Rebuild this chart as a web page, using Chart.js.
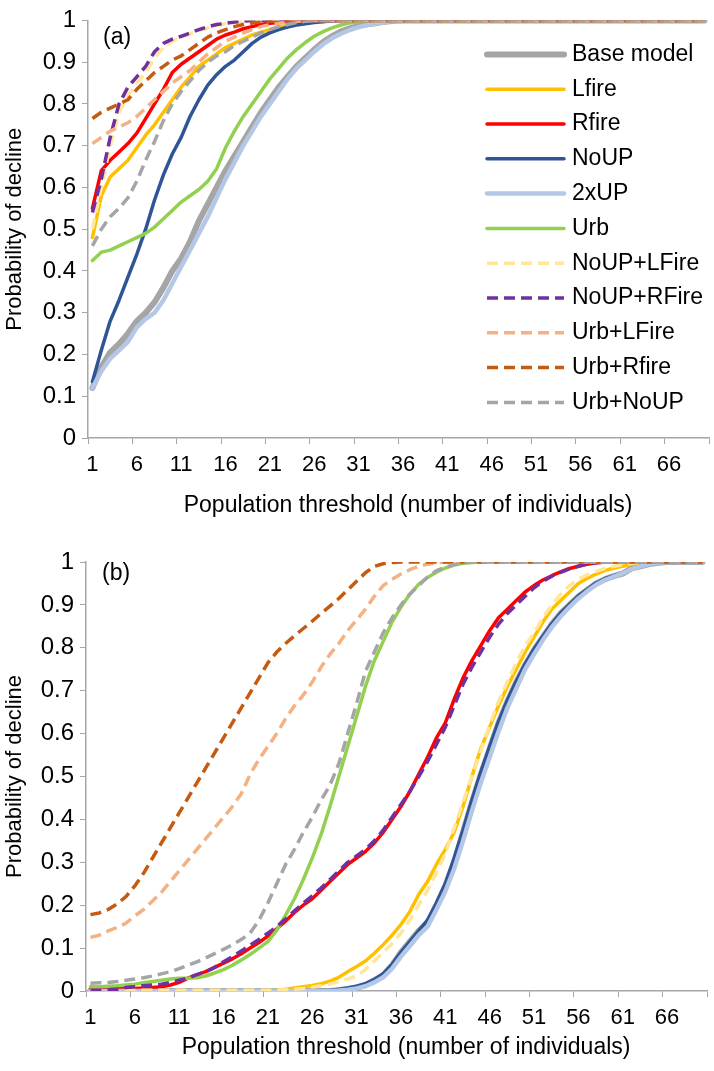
<!DOCTYPE html>
<html>
<head>
<meta charset="utf-8">
<script src="https://cdn.jsdelivr.net/npm/chart.js@4.4.1/dist/chart.umd.min.js"></script>
<style>
  body { margin: 0; background: #fff; }
  .panel { position: relative; width: 714px; }
</style>
</head>
<body>
<div class="panel" style="height:535px"><canvas id="chartA" width="714" height="535"></canvas></div>
<div class="panel" style="height:536px"><canvas id="chartB" width="714" height="536"></canvas></div>
<script>
// population thresholds (x categories)
const thresholds = [1,2,3,4,5,6,7,8,9,10,11,12,13,14,15,16,17,18,19,20,
  21,22,23,24,25,26,27,28,29,30,31,32,33,34,35,36,37,38,39,40,
  41,42,43,44,45,46,47,48,49,50,51,52,53,54,55,56,57,58,59,60,
  61,62,63,64,65,66,67,68,69,70];

const seriesNames = ['Base model','Lfire','Rfire','NoUP','2xUP','Urb',
  'NoUP+LFire','NoUP+RFire','Urb+LFire','Urb+Rfire','Urb+NoUP'];

// ---- panel (a) ----
const baseA = [0.12,0.17,0.205,0.225,0.25,0.28,0.30,0.325,0.36,0.40,
  0.43,0.47,0.52,0.56,0.60,0.64,0.675,0.71,0.745,0.78,
  0.81,0.84,0.865,0.89,0.91,0.93,0.948,0.962,0.973,0.981,
  0.987,0.991,0.994,0.997,0.999,1,1,1,1,1,
  1,1,1,1,1,1,1,1,1,1, 1,1,1,1,1,1,1,1,1,1, 1,1,1,1,1,1,1,1,1,1];
const lfireA = [0.48,0.58,0.625,0.645,0.665,0.695,0.725,0.75,0.78,0.81,
  0.84,0.865,0.89,0.905,0.92,0.935,0.945,0.955,0.965,0.972,
  0.978,0.984,0.988,0.992,0.995,0.997,0.999,1,1,1,
  1,1,1,1,1,1,1,1,1,1, 1,1,1,1,1,1,1,1,1,1, 1,1,1,1,1,1,1,1,1,1, 1,1,1,1,1,1,1,1,1,1];
const rfireA = [0.55,0.64,0.665,0.685,0.705,0.73,0.765,0.80,0.835,0.875,
  0.895,0.91,0.925,0.94,0.955,0.965,0.972,0.98,0.985,0.99,
  0.993,0.995,0.997,0.999,1,1,1,1,1,1,
  1,1,1,1,1,1,1,1,1,1, 1,1,1,1,1,1,1,1,1,1, 1,1,1,1,1,1,1,1,1,1, 1,1,1,1,1,1,1,1,1,1];
const noupA = [0.135,0.21,0.28,0.33,0.385,0.44,0.50,0.57,0.63,0.68,
  0.72,0.77,0.81,0.845,0.87,0.89,0.905,0.925,0.945,0.96,
  0.97,0.978,0.984,0.989,0.992,0.995,0.997,0.999,1,1,
  1,1,1,1,1,1,1,1,1,1, 1,1,1,1,1,1,1,1,1,1, 1,1,1,1,1,1,1,1,1,1, 1,1,1,1,1,1,1,1,1,1];
const x2upA = [0.12,0.16,0.19,0.21,0.23,0.265,0.285,0.30,0.33,0.37,
  0.41,0.45,0.49,0.53,0.575,0.62,0.66,0.70,0.735,0.77,
  0.80,0.83,0.86,0.885,0.905,0.925,0.943,0.957,0.968,0.977,
  0.984,0.989,0.993,0.996,0.999,1,1,1,1,1,
  1,1,1,1,1,1,1,1,1,1, 1,1,1,1,1,1,1,1,1,1, 1,1,1,1,1,1,1,1,1,1];
const urbA = [0.425,0.445,0.45,0.46,0.47,0.48,0.49,0.505,0.525,0.545,
  0.565,0.58,0.595,0.615,0.645,0.695,0.735,0.77,0.80,0.83,
  0.86,0.885,0.91,0.93,0.947,0.962,0.973,0.982,0.989,0.994,
  0.997,0.999,1,1,1,1,1,1,1,1,
  1,1,1,1,1,1,1,1,1,1, 1,1,1,1,1,1,1,1,1,1, 1,1,1,1,1,1,1,1,1,1];
const noupLfireA = [0.50,0.60,0.70,0.78,0.82,0.85,0.875,0.91,0.935,0.95,
  0.96,0.968,0.975,0.982,0.988,0.992,0.995,0.998,1,1,
  1,1,1,1,1,1,1,1,1,1, 1,1,1,1,1,1,1,1,1,1, 1,1,1,1,1,1,1,1,1,1,
  1,1,1,1,1,1,1,1,1,1, 1,1,1,1,1,1,1,1,1,1];
const noupRfireA = [0.54,0.62,0.72,0.80,0.84,0.865,0.89,0.925,0.945,0.955,
  0.962,0.97,0.978,0.985,0.99,0.993,0.996,0.998,1,1,
  1,1,1,1,1,1,1,1,1,1, 1,1,1,1,1,1,1,1,1,1, 1,1,1,1,1,1,1,1,1,1,
  1,1,1,1,1,1,1,1,1,1, 1,1,1,1,1,1,1,1,1,1];
const urbLfireA = [0.705,0.72,0.735,0.745,0.755,0.77,0.79,0.81,0.83,0.85,
  0.865,0.88,0.90,0.92,0.935,0.95,0.96,0.97,0.978,0.985,
  0.99,0.993,0.996,0.998,1,1,1,1,1,1,
  1,1,1,1,1,1,1,1,1,1, 1,1,1,1,1,1,1,1,1,1, 1,1,1,1,1,1,1,1,1,1, 1,1,1,1,1,1,1,1,1,1];
const urbRfireA = [0.765,0.78,0.79,0.80,0.81,0.835,0.855,0.875,0.89,0.905,
  0.915,0.93,0.945,0.96,0.97,0.978,0.985,0.99,0.994,0.997,
  0.999,1,1,1,1,1,1,1,1,1,
  1,1,1,1,1,1,1,1,1,1, 1,1,1,1,1,1,1,1,1,1, 1,1,1,1,1,1,1,1,1,1, 1,1,1,1,1,1,1,1,1,1];
const urbNoupA = [0.46,0.50,0.53,0.55,0.575,0.615,0.665,0.71,0.76,0.80,
  0.83,0.855,0.88,0.90,0.915,0.925,0.94,0.95,0.96,0.97,
  0.978,0.985,0.99,0.995,0.998,1,1,1,1,1,
  1,1,1,1,1,1,1,1,1,1, 1,1,1,1,1,1,1,1,1,1, 1,1,1,1,1,1,1,1,1,1, 1,1,1,1,1,1,1,1,1,1];

// ---- panel (b) ----
const baseB = [0,0,0,0,0,0,0,0,0,0, 0,0,0,0,0,0,0,0,0,0,
  0,0,0,0,0,0,0,0,0.002,0.005,
  0.008,0.014,0.025,0.037,0.06,0.09,0.115,0.14,0.16,0.2,
  0.245,0.3,0.37,0.44,0.505,0.565,0.625,0.675,0.72,0.76,
  0.795,0.825,0.855,0.88,0.9,0.92,0.935,0.95,0.96,0.967,
  0.973,0.985,0.99,0.995,0.998,1,1,1,1,1];
const lfireB = [0,0,0,0,0,0,0,0,0,0, 0,0,0,0,0,0,0,0,0,0,
  0.001,0.002,0.004,0.007,0.01,0.013,0.017,0.023,0.032,0.045,
  0.057,0.07,0.088,0.108,0.13,0.155,0.185,0.225,0.255,0.295,
  0.33,0.37,0.43,0.5,0.565,0.615,0.665,0.71,0.75,0.79,
  0.825,0.86,0.89,0.91,0.93,0.95,0.962,0.972,0.98,0.986,
  0.99,0.994,0.997,0.999,1,1,1,1,1,1];
const rfireB = [0.005,0.005,0.005,0.005,0.006,0.006,0.007,0.008,0.01,0.014,
  0.02,0.03,0.038,0.045,0.055,0.065,0.075,0.087,0.1,0.113,
  0.128,0.145,0.163,0.183,0.2,0.215,0.235,0.255,0.275,0.295,
  0.31,0.325,0.345,0.37,0.4,0.43,0.465,0.505,0.545,0.59,
  0.625,0.68,0.73,0.77,0.805,0.84,0.87,0.89,0.91,0.93,
  0.945,0.958,0.968,0.977,0.985,0.99,0.995,0.998,1,1,
  1,1,1,1,1,1,1,1,1,1];
const noupB = [0,0,0,0,0,0,0,0,0,0, 0,0,0,0,0,0,0,0,0,0,
  0,0,0,0,0,0,0.001,0.002,0.004,0.007,
  0.011,0.017,0.027,0.04,0.062,0.09,0.115,0.14,0.165,0.205,
  0.25,0.31,0.375,0.445,0.51,0.57,0.628,0.678,0.722,0.762,
  0.797,0.827,0.856,0.881,0.901,0.921,0.936,0.951,0.961,0.968,
  0.975,0.985,0.99,0.995,0.998,1,1,1,1,1];
const x2upB = [0,0,0,0,0,0,0,0,0,0, 0,0,0,0,0,0,0,0,0,0,
  0,0,0,0,0,0,0,0,0.001,0.003,
  0.006,0.011,0.02,0.032,0.052,0.08,0.105,0.13,0.15,0.19,
  0.232,0.285,0.35,0.42,0.485,0.545,0.605,0.66,0.705,0.75,
  0.785,0.818,0.848,0.873,0.895,0.915,0.932,0.947,0.958,0.966,
  0.974,0.984,0.99,0.995,0.998,1,1,1,1,1];
const urbB = [0.01,0.01,0.011,0.012,0.014,0.016,0.019,0.022,0.025,0.028,
  0.03,0.03,0.031,0.035,0.042,0.05,0.06,0.072,0.085,0.1,
  0.115,0.142,0.177,0.215,0.26,0.31,0.365,0.43,0.5,0.57,
  0.64,0.71,0.77,0.815,0.86,0.895,0.925,0.948,0.964,0.976,
  0.986,0.993,0.997,0.999,1,1,1,1,1,1,
  1,1,1,1,1,1,1,1,1,1, 1,1,1,1,1,1,1,1,1,1];
const noupLfireB = [0.001,0.001,0.001,0.001,0.002,0.002,0.002,0.002,0.002,0.002,
  0.002,0.002,0.002,0.002,0.002,0.002,0.002,0.002,0.002,0.002,
  0.002,0.002,0.003,0.004,0.006,0.009,0.012,0.016,0.022,0.028,
  0.035,0.05,0.07,0.09,0.11,0.135,0.165,0.2,0.235,0.275,
  0.32,0.38,0.44,0.5,0.56,0.62,0.675,0.72,0.765,0.805,
  0.835,0.87,0.9,0.925,0.945,0.96,0.97,0.978,0.985,0.99,
  0.994,0.997,0.999,1,1,1,1,1,1,1];
const noupRfireB = [0.002,0.002,0.003,0.004,0.008,0.01,0.012,0.014,0.016,0.02,
  0.025,0.03,0.038,0.045,0.055,0.068,0.08,0.093,0.107,0.12,
  0.135,0.15,0.168,0.187,0.205,0.222,0.24,0.26,0.28,0.3,
  0.315,0.33,0.35,0.375,0.405,0.435,0.465,0.5,0.535,0.575,
  0.615,0.665,0.715,0.755,0.79,0.825,0.855,0.88,0.9,0.92,
  0.94,0.955,0.967,0.976,0.984,0.99,0.995,0.998,1,1,
  1,1,1,1,1,1,1,1,1,1];
const urbLfireB = [0.125,0.13,0.14,0.148,0.158,0.175,0.19,0.21,0.23,0.255,
  0.28,0.305,0.33,0.355,0.38,0.405,0.43,0.46,0.505,0.54,
  0.57,0.6,0.635,0.665,0.69,0.72,0.755,0.785,0.81,0.84,
  0.865,0.89,0.92,0.945,0.96,0.972,0.982,0.99,0.995,0.998,
  1,1,1,1,1,1,1,1,1,1, 1,1,1,1,1,1,1,1,1,1, 1,1,1,1,1,1,1,1,1,1];
const urbRfireB = [0.178,0.182,0.19,0.203,0.22,0.245,0.275,0.31,0.345,0.38,
  0.415,0.45,0.485,0.52,0.555,0.59,0.625,0.66,0.695,0.73,
  0.765,0.79,0.81,0.828,0.845,0.862,0.88,0.897,0.915,0.935,
  0.955,0.975,0.99,0.996,0.999,1,1,1,1,1,
  1,1,1,1,1,1,1,1,1,1, 1,1,1,1,1,1,1,1,1,1, 1,1,1,1,1,1,1,1,1,1];
const urbNoupB = [0.018,0.019,0.02,0.022,0.025,0.028,0.031,0.035,0.04,0.045,
  0.052,0.06,0.068,0.077,0.087,0.097,0.108,0.12,0.135,0.165,
  0.205,0.25,0.295,0.33,0.37,0.405,0.445,0.48,0.53,0.6,
  0.67,0.745,0.79,0.835,0.87,0.9,0.925,0.945,0.965,0.98,
  0.988,0.994,0.998,1,1,1,1,1,1,1,
  1,1,1,1,1,1,1,1,1,1, 1,1,1,1,1,1,1,1,1,1];

// styles
const seriesColors = ['#A5A5A5','#FFC000','#FF0000','#2F5597','#B4C7E7','#92D050',
  '#FFE699','#7030A0','#F4B183','#C55A11','#A5A5A5'];
const seriesWidths = [6, 3.5, 3.5, 3.5, 4.5, 3.5, 3.5, 3.5, 3.5, 3.5, 3.5];
const seriesDashed = [false,false,false,false,false,false,true,true,true,true,true];

const FONT = "'Liberation Sans', Arial, sans-serif";
const AXIS_GREY = '#A6A6A6';

function buildDatasets(values) {
  return seriesNames.map((name, i) => ({
    label: name,
    data: values[i],
    borderColor: seriesColors[i],
    backgroundColor: seriesColors[i],
    borderWidth: seriesWidths[i],
    borderDash: seriesDashed[i] ? [11, 6] : [],
    borderCapStyle: seriesDashed[i] ? 'butt' : 'round',
    borderJoinStyle: 'round',
    pointRadius: 0,
    tension: 0,
    fill: false,
    order: seriesNames.length - i   // later series drawn on top, like the original
  }));
}

// panel tag "(a)" / "(b)" and the in-plot legend
const panelDecor = {
  id: 'panelDecor',
  afterDraw(chart, args, opts) {
    const {ctx, chartArea} = chart;
    ctx.save();
    ctx.fillStyle = '#000';
    ctx.font = '23px ' + FONT;
    ctx.textBaseline = 'middle';
    ctx.fillText(opts.tag, chartArea.left + opts.tagX, chartArea.top + opts.tagY);
    if (opts.legend) {
      chart.data.datasets.forEach((ds, i) => {
        const y = chartArea.top + 34 + i * 34.8;
        const x0 = chartArea.right - 222;
        ctx.beginPath();
        ctx.strokeStyle = ds.borderColor;
        ctx.lineWidth = ds.borderWidth;
        ctx.setLineDash(ds.borderDash);
        ctx.lineCap = ds.borderDash.length ? 'butt' : 'round';
        ctx.moveTo(x0, y);
        ctx.lineTo(x0 + 77, y);
        ctx.stroke();
        ctx.setLineDash([]);
        ctx.fillText(ds.label, x0 + 85, y);
      });
    }
    ctx.restore();
  }
};

function makePanel(id, values, p) {
  return new Chart(document.getElementById(id), {
    type: 'line',
    data: { labels: thresholds, datasets: buildDatasets(values) },
    plugins: [panelDecor],
    options: {
      responsive: false,
      animation: false,
      devicePixelRatio: 1,
      events: [],
      layout: { padding: { left: 0, right: p.right, top: p.top, bottom: 0 } },
      plugins: {
        legend: { display: false },
        tooltip: { enabled: false },
        panelDecor: { tag: p.tag, tagX: p.tagX, tagY: p.tagY, legend: p.legend }
      },
      scales: {
        x: {
          type: 'category',
          offset: true,
          grid: {
            offset: true,
            drawOnChartArea: false,
            drawTicks: true,
            tickLength: 6,
            tickColor: c => (c.index === undefined || c.index % 5 === 0) ? AXIS_GREY : 'rgba(0,0,0,0)'
          },
          border: { color: AXIS_GREY, width: 1.5 },
          ticks: {
            autoSkip: false, maxRotation: 0, minRotation: 0,
            padding: p.xTickPad, color: '#000',
            font: { family: FONT, size: 22 },
            callback: function (v, i) { return i % 5 === 0 ? this.getLabelForValue(v) : ''; }
          },
          title: {
            display: true,
            // leading spaces nudge the centred title right, as in the original
            text: '   Population threshold (number of individuals)',
            color: '#000', font: { family: FONT, size: 23 },
            padding: { top: 0, bottom: p.xTitlePad }
          },
          afterFit: s => { s.height = p.xHeight; }
        },
        y: {
          min: 0, max: 1,
          ticks: {
            stepSize: 0.1, padding: 6, color: '#000',
            font: { family: FONT, size: 24 },
            callback: v => String(Math.round(v * 10) / 10)
          },
          grid: { drawOnChartArea: false, drawTicks: true, tickLength: 6, tickColor: AXIS_GREY },
          border: { color: AXIS_GREY, width: 1.5 },
          title: {
            display: true, text: 'Probability of decline',
            color: '#000', font: { family: FONT, size: 22 },
            padding: { top: 2, bottom: 0 }
          },
          afterFit: s => { s.width = p.yWidth; }
        }
      }
    }
  });
}

makePanel('chartA',
  [baseA, lfireA, rfireA, noupA, x2upA, urbA, noupLfireA, noupRfireA, urbLfireA, urbRfireA, urbNoupA],
  { tag: '(a)', tagX: 15, tagY: 17, legend: true, top: 13, right: 5,
    yWidth: 88, xHeight: 97, xTickPad: 8, xTitlePad: 16 });

makePanel('chartB',
  [baseB, lfireB, rfireB, noupB, x2upB, urbB, noupLfireB, noupRfireB, urbLfireB, urbRfireB, urbNoupB],
  { tag: '(b)', tagX: 16, tagY: 12, legend: false, top: 27, right: 7,
    yWidth: 86, xHeight: 80, xTickPad: 8, xTitlePad: 10 });
</script>
</body>
</html>
